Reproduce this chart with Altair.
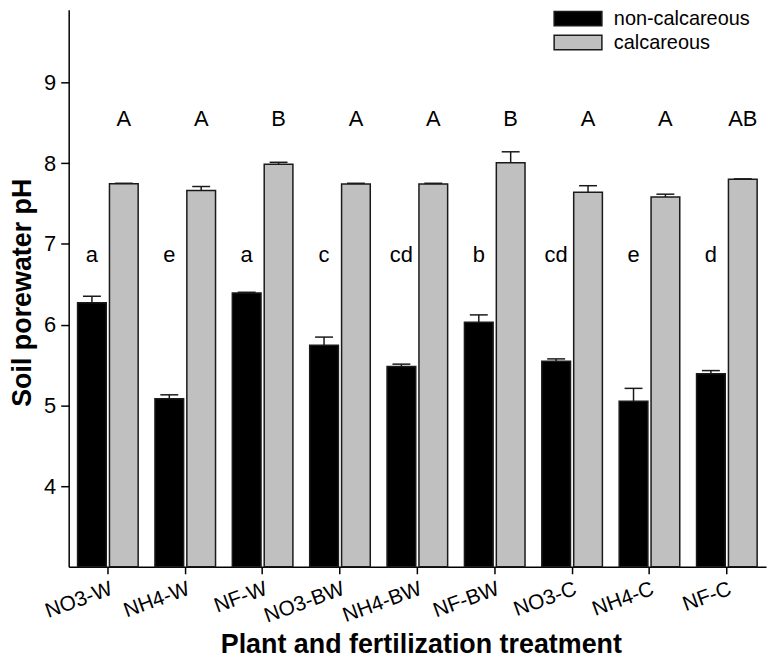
import altair as alt
import pandas as pd

treatments = ["NO3-W", "NH4-W", "NF-W", "NO3-BW", "NH4-BW", "NF-BW", "NO3-C", "NH4-C", "NF-C"]
soils = ["non-calcareous", "calcareous"]

noncalc_ph = [6.27, 5.08, 6.39, 5.745, 5.48, 6.03, 5.545, 5.05, 5.39]
noncalc_se = [0.08, 0.05, 0.01, 0.10, 0.03, 0.09, 0.03, 0.16, 0.04]
calc_ph = [7.745, 7.66, 7.985, 7.74, 7.74, 8.005, 7.64, 7.58, 7.80]
calc_se = [0.005, 0.05, 0.025, 0.01, 0.01, 0.135, 0.08, 0.035, 0.005]
noncalc_letters = ["a", "e", "a", "c", "cd", "b", "cd", "e", "d"]
calc_letters = ["A", "A", "B", "A", "A", "B", "A", "A", "AB"]

rows = []
for i, t in enumerate(treatments):
    rows.append(dict(treatment=t, soil=soils[0], ph=noncalc_ph[i], se=noncalc_se[i],
                     upper=noncalc_ph[i] + noncalc_se[i], letter=noncalc_letters[i]))
    rows.append(dict(treatment=t, soil=soils[1], ph=calc_ph[i], se=calc_se[i],
                     upper=calc_ph[i] + calc_se[i], letter=calc_letters[i]))
df = pd.DataFrame(rows)

FONT = "Liberation Sans"

x_enc = alt.X("treatment:N", sort=treatments,
              scale=alt.Scale(paddingInner=0.217, paddingOuter=0.115),
              axis=alt.Axis(title="Plant and fertilization treatment",
                            labelAngle=-20, labelAlign="right", labelBaseline="top",
                            labelPadding=4, labelFontSize=21, tickSize=7,
                            titleFontSize=27, titleFontWeight="bold",
                            titleX=354, titleY=78, titleAlign="center",
                            titleBaseline="middle"))
xo_enc = alt.XOffset("soil:N", sort=soils, scale=alt.Scale(paddingInner=0.1))
y_scale = alt.Scale(domain=[3, 9.9], nice=False, zero=False)

base = alt.Chart(df).encode(x=x_enc, xOffset=xo_enc)

bars = base.mark_bar(stroke="#1a1a1a", strokeWidth=1.5).encode(
    y=alt.Y("ph:Q", scale=y_scale,
            axis=alt.Axis(values=[4, 5, 6, 7, 8, 9], format="d", title="Soil porewater pH",
                          tickSize=8, labelPadding=5, labelFontSize=22,
                          titleFontSize=27, titleFontWeight="bold",
                          titleX=-46, titleY=284, titleAlign="center",
                          titleBaseline="middle")),
    y2=alt.datum(3),
    color=alt.Color("soil:N", sort=soils,
                    scale=alt.Scale(domain=soils, range=["#000000", "#c0c0c0"]),
                    legend=alt.Legend(orient="none", legendX=499, legendY=-4, title=None,
                                      symbolType="M-2,-0.6H2V0.6H-2Z", symbolSize=576,
                                      symbolStrokeColor="#1a1a1a", symbolStrokeWidth=1.5,
                                      symbolOpacity=1,
                                      labelFontSize=20, labelFont=FONT, labelColor="black",
                                      labelOffset=23, rowPadding=0, padding=0,
                                      symbolOffset=0)),
)

err_rule = base.mark_rule(color="#1a1a1a", strokeWidth=1.5).encode(
    y=alt.Y("ph:Q", scale=y_scale), y2="upper:Q")
err_cap = base.mark_tick(color="#1a1a1a", thickness=1.5, size=18, opacity=1).encode(
    y=alt.Y("upper:Q", scale=y_scale))

txt_lower = base.transform_filter(alt.datum.soil == soils[0]).mark_text(
    baseline="alphabetic", fontSize=22, font=FONT, color="black").encode(
    y=alt.datum(6.78), text="letter:N")
txt_upper = base.transform_filter(alt.datum.soil == soils[1]).mark_text(
    baseline="alphabetic", fontSize=22, font=FONT, color="black").encode(
    y=alt.datum(8.46), text="letter:N")

chart = alt.layer(bars, err_rule, err_cap, txt_lower, txt_upper).properties(
    width=701, height=560,
    autosize=alt.AutoSizeParams(type="none"),
    padding={"left": 61, "top": 0, "right": 6, "bottom": 94},
).configure_view(stroke=None).configure_axis(
    domainColor="black", domainWidth=1.5, tickColor="black", tickWidth=1.5,
    labelColor="black", titleColor="black", labelFont=FONT, titleFont=FONT, grid=False
)

chart.save("out.html", embed_options={"renderer": "svg", "actions": False})
